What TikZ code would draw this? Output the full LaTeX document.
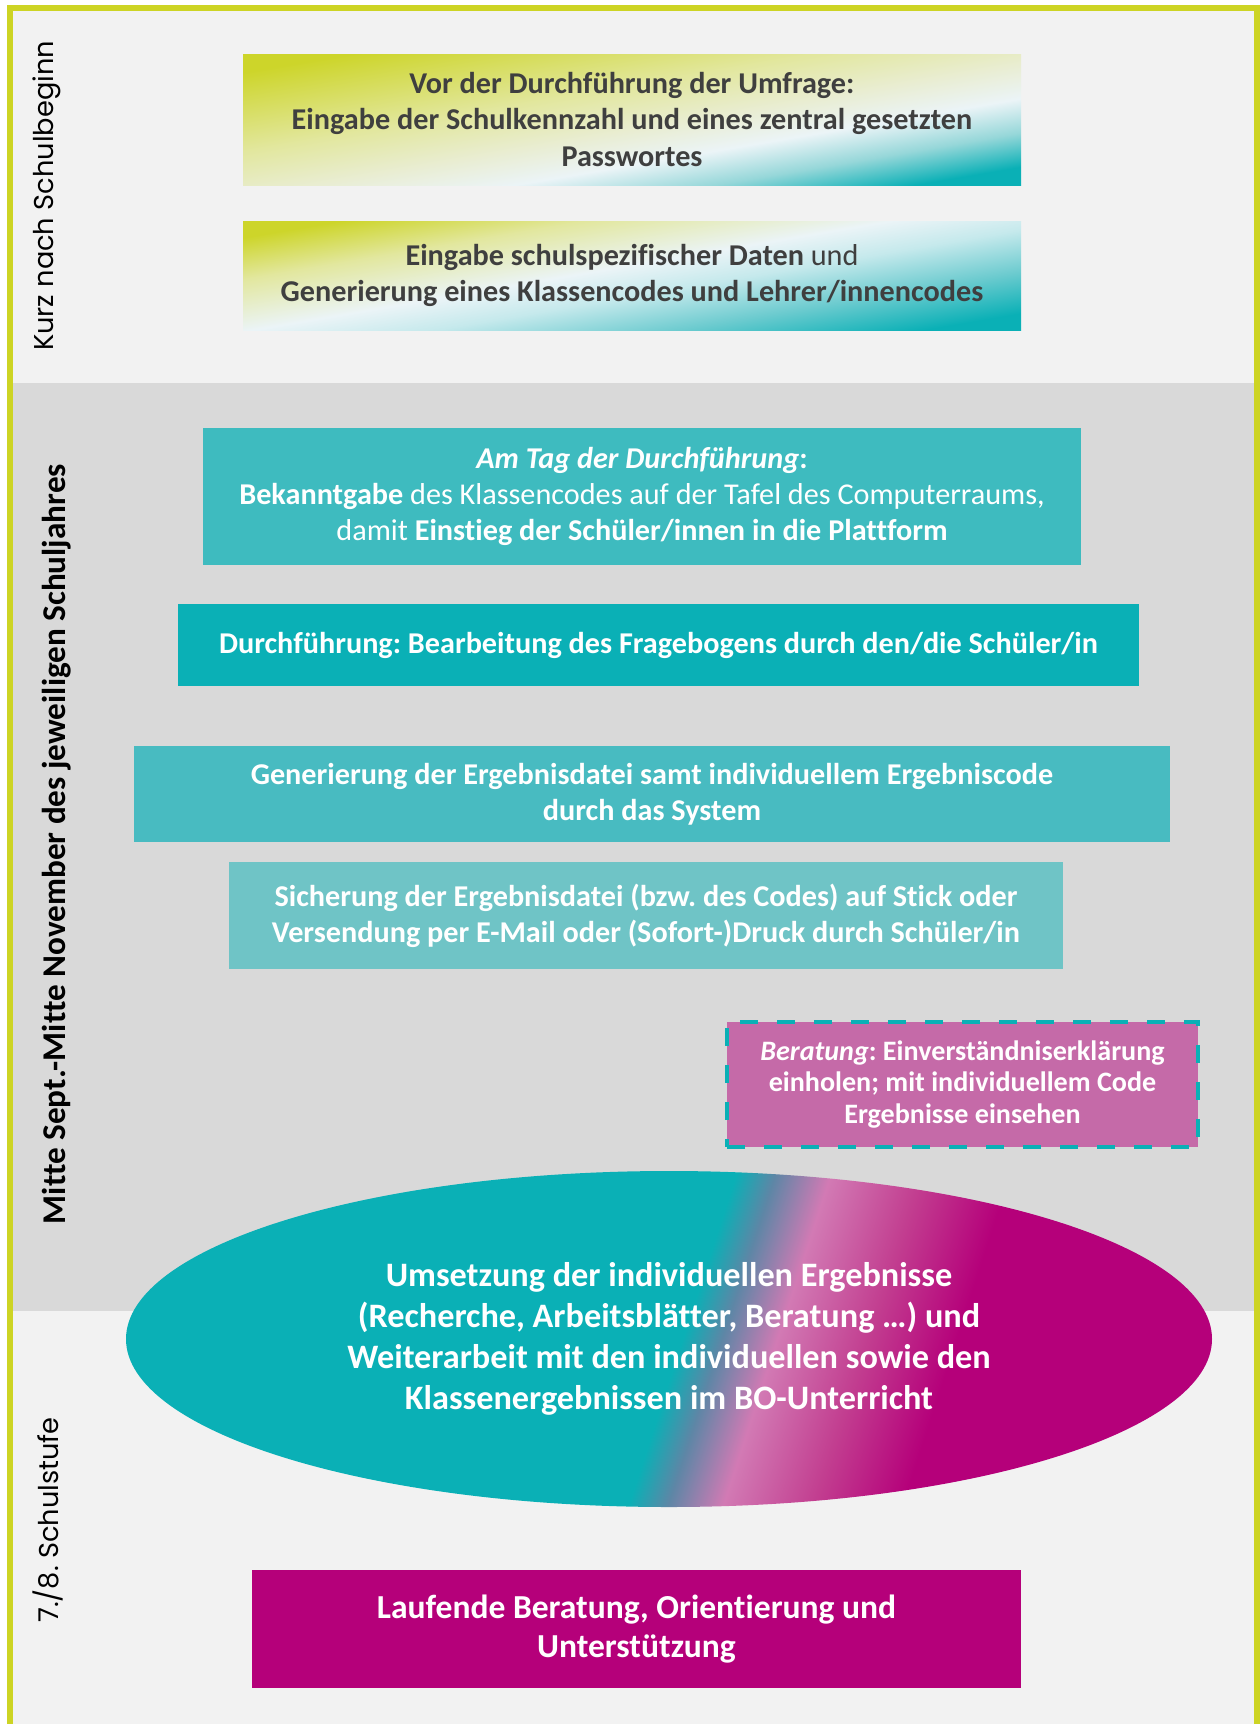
\documentclass[tikz,border=0pt]{standalone}
\usepackage{fontspec}
\setmainfont[Ligatures=NoCommon]{Carlito}
\newfontfamily\gothicfont{Poppins}
\usetikzlibrary{shapes.geometric}
\frenchspacing

\newlength\pix
\setlength\pix{0.02cm}

\definecolor{framegreen}{HTML}{CDD424}
\definecolor{bglight}{HTML}{F2F2F2}
\definecolor{bgmid}{HTML}{D9D9D9}
\definecolor{darktext}{HTML}{3F3F3F}
\definecolor{ygreen}{HTML}{CDD52A}
\definecolor{ylight}{HTML}{E2E79E}
\definecolor{ypale}{HTML}{E9EDD2}
\definecolor{wblue}{HTML}{EBF4F7}
\definecolor{lteal}{HTML}{96D7D9}
\definecolor{cyanpale}{HTML}{C5E9EC}
\definecolor{cyanmid}{HTML}{6CCBCF}
\definecolor{teal}{HTML}{0AB0B6}
\definecolor{tagteal}{HTML}{3EBBBF}
\definecolor{generteal}{HTML}{48BBC1}
\definecolor{sicherteal}{HTML}{6FC4C6}
\definecolor{beratpink}{HTML}{C56AA8}
\definecolor{bluegray}{HTML}{5E86A6}
\definecolor{pinklight}{HTML}{D27AB4}
\definecolor{pinkmid}{HTML}{C23E90}
\definecolor{magenta}{HTML}{B5007A}

\pgfdeclarehorizontalshading{umfragefade}{100bp}{color(0bp)=(ygreen); color(25bp)=(ygreen); color(42.5bp)=(ylight); color(52.5bp)=(ypale); color(60bp)=(wblue); color(67.5bp)=(lteal); color(75bp)=(teal); color(100bp)=(teal)}
\pgfdeclarehorizontalshading{datenfade}{100bp}{color(0bp)=(ygreen); color(25bp)=(ygreen); color(35bp)=(ylight); color(47.5bp)=(wblue); color(55bp)=(cyanpale); color(65bp)=(cyanmid); color(75bp)=(teal); color(100bp)=(teal)}
\pgfdeclarehorizontalshading{ovalfade}{100bp}{color(0bp)=(teal); color(50.7bp)=(teal); color(52.8bp)=(bluegray); color(55.7bp)=(pinklight); color(60.5bp)=(pinkmid); color(65.2bp)=(magenta); color(100bp)=(magenta)}

\begin{document}
\begin{tikzpicture}[x=0.02cm, y=-0.02cm,
    phasebox/.style={rectangle, inner sep=0pt, align=center,
      font=\fontsize{17.2}{20.5}\selectfont\bfseries},
    fadebox/.style={phasebox, shade, shading=#1, shading angle=-80.3, text=darktext},
    tealbox/.style={phasebox, fill=#1, text=white},
    phaselabel/.style={rotate=90, inner sep=0pt, text=black}]
  \useasboundingbox (0,0) rectangle (1260,1724);
  \fill[white] (0,0) rectangle (1260,1724);

  % Hintergrund der drei Phasen
  \fill[bglight] (13,11) rectangle (1254,383);
  \fill[bgmid] (13,383) rectangle (1254,1311);
  \fill[bglight] (13,1311) rectangle (1254,1724);
  \draw[framegreen, line width=6\pix] (10,1724) -- (10,8) -- (1257,8) -- (1257,1724);

  \node[phaselabel, font=\gothicfont\fontsize{15.5}{17}\selectfont] (kurz) at (47,196) {Kurz nach Schulbeginn};
  \node[phaselabel, font=\fontsize{18.9}{20}\selectfont\bfseries] (mitte) at (57,844) {Mitte Sept.-Mitte November des jeweiligen Schuljahres};
  \node[phaselabel, font=\gothicfont\fontsize{15.5}{17}\selectfont] (stufe) at (48,1520) {7./8. Schulstufe};

  % Kurz nach Schulbeginn
  \node[fadebox=umfragefade, minimum width=778\pix, minimum height=131\pix] (umfrage) at (632,119.5)
    {Vor der Durchführung der Umfrage:\\Eingabe der Schulkennzahl und eines zentral gesetzten\\Passwortes};
  \node[fadebox=datenfade, minimum width=778\pix, minimum height=109\pix] (daten) at (632,275.5)
    {Eingabe schulspezifischer Daten \textmd{und}\\Generierung eines Klassencodes und Lehrer/innencodes};

  % Durchfuehrung
  \node[tealbox=tagteal, minimum width=878\pix, minimum height=137\pix] (tag) at (642,496.5)
    {\textit{Am Tag der Durchführung}:\\Bekanntgabe \textmd{des Klassencodes auf der Tafel des Computerraums,}\\\textmd{damit} Einstieg der Schüler/innen in die Plattform};
  \node[tealbox=teal, minimum width=961\pix, minimum height=82\pix] (bogen) at (658.5,645)
    {Durchführung: Bearbeitung des Fragebogens durch den/die Schüler/in};
  \node[tealbox=generteal, minimum width=1036\pix, minimum height=96\pix] (datei) at (652,794)
    {Generierung der Ergebnisdatei samt individuellem Ergebniscode\\durch das System};
  \node[tealbox=sicherteal, minimum width=834\pix, minimum height=107\pix] (sicher) at (646,915.5)
    {Sicherung der Ergebnisdatei (bzw. des Codes) auf Stick oder\\Versendung per E-Mail oder (Sofort-)Druck durch Schüler/in};
  \node[tealbox=beratpink, draw=teal, line width=4\pix, dash pattern=on 0.36cm off 0.38cm,
    minimum width=471\pix, minimum height=125\pix, font=\fontsize{16}{18.2}\selectfont\bfseries] (beratung) at (962.5,1084.5)
    {\textit{Beratung}: Einverständniserklärung\\einholen; mit individuellem Code\\Ergebnisse einsehen};

  % Umsetzung
  \node[ellipse, inner sep=0pt, minimum width=1086\pix, minimum height=336\pix, shade, shading=ovalfade,
    shading angle=-18, align=center, text=white, font=\fontsize{19.5}{23.3}\selectfont\bfseries] (umsetzung) at (669,1339)
    {Umsetzung der individuellen Ergebnisse\\(Recherche, Arbeitsblätter, Beratung \dots) und\\Weiterarbeit mit den individuellen sowie den\\Klassenergebnissen im BO-Unterricht};
  \node[tealbox=magenta, minimum width=769\pix, minimum height=118\pix, font=\fontsize{19.1}{22.2}\selectfont\bfseries] (laufend) at (636.5,1629)
    {Laufende Beratung, Orientierung und\\Unterstützung};
\end{tikzpicture}
\end{document}
